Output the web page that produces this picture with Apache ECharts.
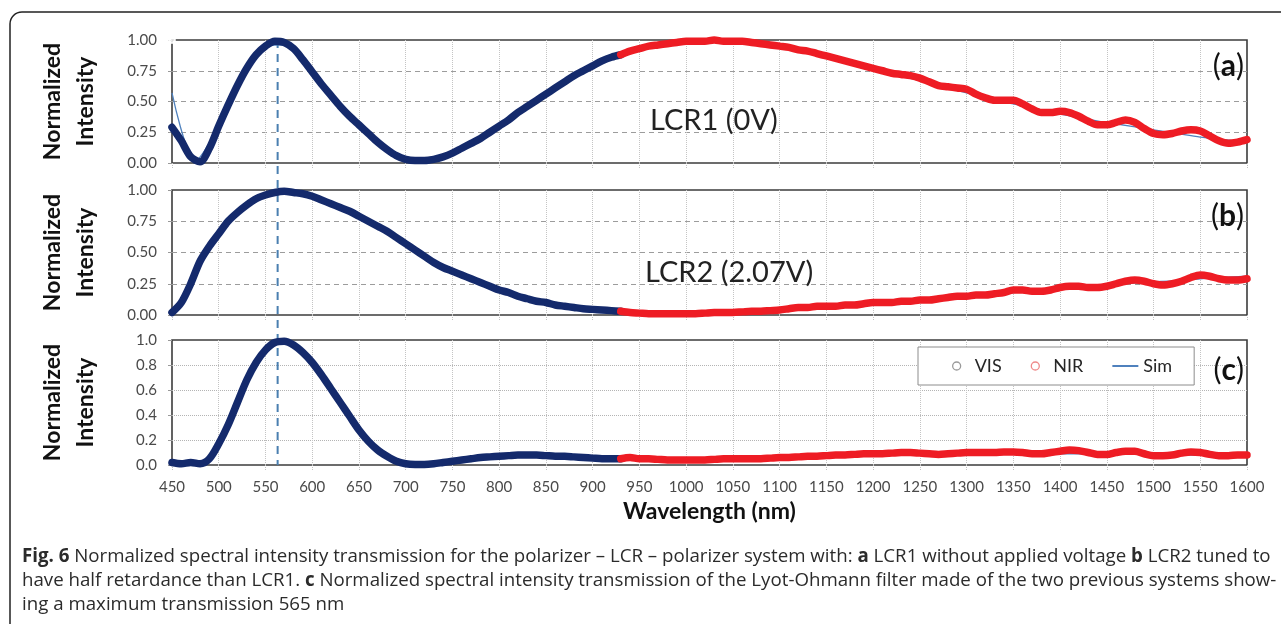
<!DOCTYPE html>
<html>
<head>
<meta charset="utf-8">
<script src="https://cdn.jsdelivr.net/npm/echarts@6/dist/echarts.min.js"></script>
<style>
  html, body { margin: 0; padding: 0; background: #fff; }
  #chart { width: 1281px; height: 624px; }
</style>
</head>
<body>
<div id="chart"></div>
<script>
// wavelength sampling in nm (VIS and NIR spectrometers, Sim curve)
function range(a, b, s) {
  const out = []
  for (let x = a; x <= b; x += s) out.push(x)
  return out
}
const visWl = range(450, 930, 10)
const nirWl = range(930, 1600, 10)
const simWl = range(450, 1600, 25)
const peakWl = 563

// (a) LCR1 (0V)
const visA = [0.29, 0.18, 0.05, 0.01, 0.12, 0.30, 0.47, 0.63, 0.77, 0.88,
  0.95, 0.99, 0.98, 0.93, 0.84, 0.74, 0.64, 0.55, 0.46, 0.38,
  0.31, 0.24, 0.17, 0.11, 0.06, 0.03, 0.02, 0.02, 0.03, 0.05,
  0.08, 0.12, 0.16, 0.20, 0.25, 0.30, 0.35, 0.41, 0.46, 0.51,
  0.56, 0.61, 0.66, 0.71, 0.75, 0.79, 0.83, 0.86, 0.88]
const nirA = [0.88, 0.91, 0.93, 0.95, 0.96, 0.97, 0.98, 0.99, 0.99, 0.99,
  1.00, 0.99, 0.99, 0.99, 0.98, 0.97, 0.96, 0.95, 0.94, 0.92,
  0.91, 0.89, 0.87, 0.85, 0.83, 0.81, 0.79, 0.77, 0.75, 0.73,
  0.72, 0.71, 0.69, 0.66, 0.63, 0.62, 0.61, 0.60, 0.56, 0.53,
  0.51, 0.51, 0.51, 0.48, 0.44, 0.41, 0.41, 0.42, 0.41, 0.38,
  0.34, 0.31, 0.31, 0.33, 0.35, 0.33, 0.28, 0.24, 0.23, 0.24,
  0.26, 0.27, 0.26, 0.22, 0.18, 0.16, 0.17, 0.19]
const simA = [0.57, 0.02, 0.30, 0.70, 0.95, 0.96, 0.73, 0.50, 0.30, 0.13,
  0.03, 0.02, 0.08, 0.18, 0.30, 0.43, 0.56, 0.68, 0.79, 0.87,
  0.93, 0.97, 0.99, 0.99, 0.99, 0.97, 0.95, 0.92, 0.87, 0.82,
  0.77, 0.72, 0.67, 0.62, 0.57, 0.52, 0.48, 0.44, 0.40, 0.36,
  0.33, 0.30, 0.27, 0.24, 0.21, 0.19, 0.17]
const outlierA = [[450, 1.0]]

// (b) LCR2 (2.07V)
const visB = [0.02, 0.10, 0.25, 0.43, 0.55, 0.65, 0.75, 0.82, 0.88, 0.93,
  0.96, 0.98, 0.99, 0.98, 0.97, 0.95, 0.92, 0.89, 0.86, 0.83,
  0.79, 0.75, 0.71, 0.67, 0.62, 0.57, 0.52, 0.47, 0.42, 0.38,
  0.35, 0.32, 0.29, 0.26, 0.23, 0.20, 0.18, 0.15, 0.13, 0.11,
  0.10, 0.08, 0.07, 0.06, 0.05, 0.045, 0.04, 0.035, 0.03]
const nirB = [0.03, 0.02, 0.015, 0.01, 0.01, 0.01, 0.01, 0.01, 0.01, 0.015,
  0.02, 0.02, 0.02, 0.025, 0.03, 0.03, 0.035, 0.04, 0.05, 0.06,
  0.06, 0.07, 0.07, 0.07, 0.08, 0.08, 0.09, 0.10, 0.10, 0.10,
  0.11, 0.11, 0.12, 0.12, 0.13, 0.14, 0.15, 0.15, 0.16, 0.16,
  0.17, 0.18, 0.20, 0.20, 0.19, 0.19, 0.20, 0.22, 0.23, 0.23,
  0.22, 0.22, 0.23, 0.25, 0.27, 0.28, 0.27, 0.25, 0.24, 0.25,
  0.27, 0.30, 0.32, 0.31, 0.29, 0.28, 0.28, 0.29]
const simB = [0.00, 0.32, 0.65, 0.85, 0.96, 0.99, 0.95, 0.88, 0.79, 0.69,
  0.57, 0.45, 0.35, 0.27, 0.20, 0.14, 0.10, 0.065, 0.045, 0.03,
  0.015, 0.01, 0.01, 0.015, 0.02, 0.03, 0.04, 0.055, 0.065, 0.08,
  0.095, 0.105, 0.12, 0.135, 0.15, 0.165, 0.18, 0.195, 0.21, 0.225,
  0.24, 0.255, 0.265, 0.275, 0.29, 0.30, 0.31]

// (c) Lyot-Ohmann filter
const visC = [0.02, 0.01, 0.02, 0.01, 0.05, 0.17, 0.32, 0.50, 0.68, 0.82,
  0.92, 0.98, 0.99, 0.96, 0.90, 0.82, 0.72, 0.61, 0.50, 0.39,
  0.28, 0.19, 0.12, 0.07, 0.03, 0.01, 0.005, 0.005, 0.01, 0.02,
  0.03, 0.04, 0.05, 0.06, 0.065, 0.07, 0.075, 0.08, 0.08, 0.08,
  0.075, 0.07, 0.07, 0.065, 0.06, 0.055, 0.05, 0.05, 0.05]
const nirC = [0.05, 0.06, 0.05, 0.05, 0.045, 0.04, 0.04, 0.04, 0.04, 0.04,
  0.045, 0.05, 0.05, 0.05, 0.05, 0.05, 0.055, 0.06, 0.06, 0.065,
  0.07, 0.07, 0.075, 0.08, 0.08, 0.085, 0.09, 0.09, 0.09, 0.095,
  0.10, 0.10, 0.095, 0.09, 0.085, 0.09, 0.095, 0.10, 0.10, 0.10,
  0.10, 0.105, 0.105, 0.10, 0.09, 0.09, 0.10, 0.11, 0.12, 0.115,
  0.10, 0.085, 0.085, 0.10, 0.11, 0.11, 0.09, 0.075, 0.075, 0.08,
  0.095, 0.105, 0.10, 0.085, 0.075, 0.075, 0.08, 0.08]
const simC = [0.01, 0.01, 0.15, 0.60, 0.93, 0.98, 0.82, 0.55, 0.28, 0.09,
  0.01, 0.005, 0.03, 0.055, 0.07, 0.08, 0.075, 0.065, 0.055, 0.05,
  0.045, 0.04, 0.04, 0.04, 0.045, 0.05, 0.055, 0.06, 0.065, 0.07,
  0.075, 0.08, 0.08, 0.085, 0.085, 0.09, 0.09, 0.09, 0.09, 0.09,
  0.09, 0.085, 0.085, 0.08, 0.08, 0.075, 0.075]

const panelNames = ['a', 'b', 'c']
const panelNotes = ['LCR1 (0V)', 'LCR2 (2.07V)', '']
const yIntervals = [0.25, 0.25, 0.2]
const yDecimals = [2, 2, 1]

const navy = '#142a6c'
const red = '#ee1c24'
const simColor = '#4f81bd'
const font = 'Lato'

function pairs(xs, ys) {
  return ys.map((v, i) => [xs[i], v])
}

const panels = [
  { vis: visA, nir: nirA, sim: simA },
  { vis: visB, nir: nirB, sim: simB },
  { vis: visC, nir: nirC, sim: simC },
]
const grids = [
  { left: 172, right: 34, top: 40, height: 123 },
  { left: 172, right: 34, top: 190, height: 125 },
  { left: 172, right: 34, top: 340, height: 125 },
].map(g => Object.assign(g, {
  show: true, borderColor: '#3c3c3c', borderWidth: 1.6,
  backgroundColor: 'transparent', outerBoundsMode: 'none', containLabel: false,
}))

const xAxes = panels.map((p, i) => ({
  type: 'value', gridIndex: i, min: 450, max: 1600, interval: 50,
  axisLine: { show: false },
  axisTick: { show: true, length: 5, lineStyle: { color: '#c4c4c4', type: 'dotted' } },
  axisLabel: {
    show: i === 2, margin: 15, color: '#4a4a4a', fontFamily: font, fontSize: 15,
    formatter: v => String(v),
  },
  splitLine: {
    show: true, showMinLine: false, showMaxLine: false,
    lineStyle: { color: '#c4c4c4', type: 'dotted', width: 1 },
  },
  name: i === 2 ? 'Wavelength (nm)' : '',
  nameLocation: 'middle', nameGap: 35,
  nameTextStyle: { fontFamily: font, fontSize: 23, fontWeight: 'bold', color: '#111' },
}))

const yAxes = panels.map((p, i) => ({
  type: 'value', gridIndex: i, min: 0, max: 1, interval: yIntervals[i],
  axisLine: { show: false },
  axisTick: { show: true, length: 4, lineStyle: { color: '#999' } },
  axisLabel: {
    margin: 15, color: '#4a4a4a', fontFamily: font, fontSize: 15,
    formatter: v => v.toFixed(yDecimals[i]),
  },
  splitLine: {
    show: true, showMinLine: false, showMaxLine: false,
    lineStyle: i === 2
      ? { color: '#b4b4b4', type: 'dotted', width: 1 }
      : { color: '#9c9c9c', type: [5, 4], width: 1.2 },
  },
  name: 'Normalized\nIntensity',
  nameLocation: 'middle', nameGap: 70,
  nameTextStyle: { fontFamily: font, fontSize: 23, fontWeight: 'bold', color: '#111', lineHeight: 33 },
}))

const series = []
panels.forEach((p, i) => {
  series.push({
    name: 'Sim', type: 'line', xAxisIndex: i, yAxisIndex: i,
    data: pairs(simWl, p.sim), symbol: 'none', smooth: 0.3, clip: false, z: 2,
    lineStyle: { color: simColor, width: 1.3 }, itemStyle: { color: simColor },
  })
  series.push({
    name: 'VIS', type: 'line', xAxisIndex: i, yAxisIndex: i,
    data: pairs(visWl, p.vis), symbol: 'none', smooth: 0.3, clip: false, z: 3,
    lineStyle: { color: navy, width: 7.5, cap: 'round', join: 'round' }, itemStyle: { color: navy },
  })
  series.push({
    name: 'NIR', type: 'line', xAxisIndex: i, yAxisIndex: i,
    data: pairs(nirWl, p.nir), symbol: 'none', smooth: 0.3, clip: false, z: 3,
    lineStyle: { color: red, width: 7.5, cap: 'round', join: 'round' }, itemStyle: { color: red },
  })
})
series.push({
  name: 'VIS', type: 'scatter', xAxisIndex: 0, yAxisIndex: 0, data: outlierA,
  symbol: 'emptyCircle', symbolSize: 6, clip: false, z: 4,
  itemStyle: { color: '#fff', borderColor: '#7587ad', borderWidth: 1.2 },
})

const captionLines = [
  '{b|Fig. 6} Normalized spectral intensity transmission for the polarizer – LCR – polarizer system with: {b|a} LCR1 without applied voltage {b|b} LCR2 tuned to',
  'have half retardance than LCR1. {b|c} Normalized spectral intensity transmission of the Lyot-Ohmann filter made of the two previous systems show-',
  'ing a maximum transmission 565 nm',
]
const captionY = [557, 581, 605]
const captionSize = 18.7
const panelLabelY = [66, 216, 370]
const noteX = [650, 645]
const noteY = [121, 273]

const graphic = [{
  id: 'frame', type: 'rect', z: 0, silent: true,
  shape: { x: 10, y: 12, width: 1400, height: 800, r: 12 },
  style: { fill: 'none', stroke: '#222', lineWidth: 1.5 },
}]
captionLines.forEach((t, i) => {
  graphic.push({
    id: 'cap' + i, type: 'text', z: 5,
    style: {
      text: t, x: 22, y: captionY[i], verticalAlign: 'middle',
      fontFamily: 'Open Sans', fontSize: captionSize, fill: '#2b2b2b',
      rich: { b: { fontFamily: 'Open Sans', fontSize: captionSize, fontWeight: 'bold', fill: '#2b2b2b' } },
    },
  })
})
panelNames.forEach((n, i) => {
  graphic.push({
    id: 'lab' + n, type: 'text', z: 5,
    style: {
      text: '{p|(}{l|' + n + '}{p|)}', x: 1244, y: panelLabelY[i], align: 'right', verticalAlign: 'middle',
      rich: {
        p: { fontFamily: font, fontSize: 30, fontWeight: 'normal', fill: '#111' },
        l: { fontFamily: font, fontSize: 30, fontWeight: 'bold', fill: '#111' },
      },
    },
  })
})
panelNotes.forEach((t, i) => {
  if (!t) return
  graphic.push({
    id: 'note' + i, type: 'text', z: 5,
    style: {
      text: t, x: noteX[i], y: noteY[i], verticalAlign: 'middle',
      fontFamily: font, fontSize: 29, fill: '#222',
    },
  })
})

const option = {
  animation: false,
  backgroundColor: '#fff',
  grid: grids,
  xAxis: xAxes,
  yAxis: yAxes,
  legend: {
    left: 918, top: 347, orient: 'horizontal',
    padding: [10, 22, 10, 34], itemGap: 29, itemWidth: 26, itemHeight: 8,
    backgroundColor: '#fff', borderColor: '#8c8c8c', borderWidth: 1, borderRadius: 0,
    textStyle: { fontFamily: font, fontSize: 18, color: '#262626' },
    data: [
      { name: 'VIS', icon: 'circle', itemStyle: { color: '#fff', borderColor: '#9a9a9a', borderWidth: 1.3 } },
      { name: 'NIR', icon: 'circle', itemStyle: { color: '#fff', borderColor: '#ef8a8a', borderWidth: 1.3 } },
      { name: 'Sim', icon: 'path://M0,0 L26,0 L26,2 L0,2 Z', itemStyle: { color: simColor, borderWidth: 0 } },
    ],
    selectedMode: false,
  },
  graphic: graphic,
  series: series,
}

const chart = echarts.init(document.getElementById('chart'))
chart.setOption(option)

// dashed marker at the transmission peak, spanning all three panels
const peakX = chart.convertToPixel({ xAxisIndex: 0 }, peakWl)
const peakTop = chart.convertToPixel({ yAxisIndex: 0 }, 1)
const peakBottom = chart.convertToPixel({ yAxisIndex: 2 }, 0)
chart.setOption({
  graphic: [{
    id: 'peak', type: 'line', z: 1, silent: true,
    shape: { x1: peakX, y1: peakTop, x2: peakX, y2: peakBottom },
    style: { stroke: '#4a7fb0', lineWidth: 2, lineDash: [8, 6] },
  }],
})
</script>
</body>
</html>
